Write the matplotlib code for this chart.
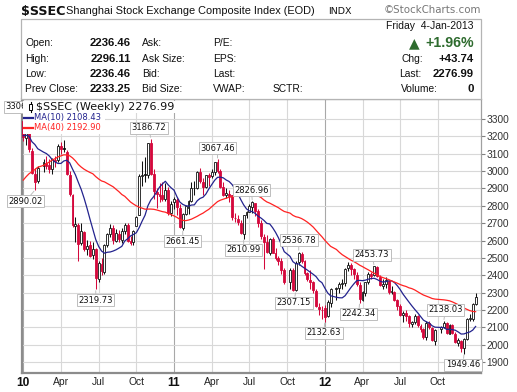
import numpy as np
import pandas as pd
import matplotlib
matplotlib.use("Agg")
import matplotlib.pyplot as plt
import matplotlib.dates as mdates
from matplotlib.patches import Rectangle
from matplotlib.lines import Line2D

W, H = 517, 392

# ---------------- data (weekly bars, week starting Monday) ----------------
holiday_weeks = ["2010-02-15", "2011-10-03", "2012-01-23", "2012-10-01"]

opens = [
    3289, 3191, 3226, 3116, 2983, 2941, 3031, 3048, 3034, 3010, 3062, 3065, 3145, 3135, 3110, 2975, 2862,
    2682, 2690, 2585, 2651, 2550, 2573, 2520, 2554, 2378, 2466, 2420, 2575, 2640, 2673, 2600, 2640, 2606,
    2658, 2690, 2599, 2590, 2685, 2745, 2970, 2985, 2980, 3160, 2985, 2880, 2870, 2860, 2840, 2890, 2760,
    2825, 2835, 2790, 2675, 2752, 2790, 2830, 2900, 2905, 2995, 2940, 2910, 2975, 2970, 2995, 3050, 3000,
    2910, 2865, 2870, 2860, 2730, 2725, 2700, 2640, 2745, 2765, 2795, 2818, 2770, 2700, 2620, 2590, 2530,
    2610, 2530, 2500, 2480, 2430, 2360, 2430, 2315, 2475, 2525, 2480, 2415, 2375, 2360, 2310, 2220, 2200,
    2212, 2165, 2240, 2320, 2330, 2350, 2355, 2440, 2458, 2435, 2400, 2345, 2260, 2300, 2360, 2405, 2400,
    2450, 2390, 2340, 2350, 2370, 2305, 2305, 2260, 2225, 2170, 2185, 2165, 2120, 2130, 2165, 2110, 2090,
    2045, 2125, 2095, 2025, 2090, 2100, 2125, 2065, 2115, 2065, 2010, 2025, 1980, 2035, 2150, 2150, 2233,
]
highs = [
    3295, 3306.75, 3262, 3134, 3017, 3027, 3071, 3089, 3069, 3078, 3085, 3155, 3169, 3181, 3122, 2998, 2869,
    2737, 2702, 2702, 2658, 2605, 2598, 2590, 2558, 2480, 2500, 2582, 2645, 2697, 2690, 2665, 2662, 2670,
    2700, 2700, 2625, 2660, 2740, 2983, 3060, 3080, 3160, 3186.72, 3010, 2900, 2930, 2940, 2930, 2910, 2830,
    2853, 2848, 2810, 2760, 2800, 2832, 2940, 2945, 3000, 3015, 2960, 2980, 2990, 3010, 3050, 3067.46, 3010,
    2935, 2900, 2890, 2862, 2760, 2745, 2720, 2750, 2770, 2810, 2826.96, 2812, 2780, 2720, 2640, 2630, 2615,
    2620, 2560, 2510, 2500, 2440, 2440, 2440, 2480, 2536.78, 2535, 2490, 2420, 2430, 2370, 2320, 2240, 2225,
    2230, 2260, 2330, 2335, 2360, 2380, 2440, 2478, 2470, 2445, 2420, 2360, 2310, 2360, 2420, 2420, 2453.73,
    2452, 2400, 2380, 2390, 2375, 2340, 2310, 2265, 2235, 2195, 2200, 2170, 2140, 2175, 2170, 2120, 2095,
    2135, 2140, 2100, 2090, 2110, 2138.03, 2130, 2120, 2120, 2075, 2040, 2030, 2040, 2155, 2180, 2240, 2296,
]
lows = [
    3172, 3151, 3109, 2986, 2890.02, 2930, 2995, 3011, 2989, 2986, 3022, 3051, 3100, 3110, 2976, 2859, 2680,
    2594, 2481, 2575, 2541, 2515, 2508, 2493, 2319.73, 2363, 2400, 2410, 2565, 2620, 2580, 2590, 2591, 2585,
    2640, 2590, 2574, 2573, 2685, 2745, 2915, 2940, 2960, 2980, 2840, 2790, 2820, 2830, 2830, 2750, 2740,
    2780, 2745, 2670, 2661.45, 2745, 2755, 2820, 2862, 2895, 2930, 2860, 2900, 2915, 2960, 2980, 2990, 2900,
    2855, 2845, 2820, 2720, 2705, 2690, 2640, 2610.99, 2730, 2765, 2760, 2740, 2680, 2610, 2437, 2530, 2520,
    2540, 2490, 2460, 2410, 2350, 2320, 2310, 2307.15, 2460, 2470, 2400, 2370, 2320, 2300, 2220, 2170, 2150,
    2132.63, 2160, 2220, 2260, 2300, 2320, 2340, 2425, 2400, 2380, 2340, 2242.34, 2250, 2280, 2350, 2380, 2395,
    2390, 2340, 2320, 2330, 2290, 2290, 2255, 2200, 2165, 2130, 2140, 2100, 2100, 2120, 2105, 2075, 2035,
    2030, 2090, 2025, 2000, 2070, 2095, 2065, 2060, 2065, 2010, 1995, 1960, 1949.46, 2030, 2140, 2140, 2230,
]
closes = [
    3196, 3224, 3128, 2989, 2939, 3018, 3051, 3031, 3013, 3068, 3060, 3143, 3130, 3130, 2983, 2870, 2688,
    2697, 2583, 2656, 2553, 2570, 2514, 2552, 2382, 2470, 2424, 2572, 2637, 2672, 2606, 2642, 2610, 2656,
    2688, 2598, 2588, 2656, 2738, 2971, 2975, 2978, 3160, 2985, 2888, 2871, 2857, 2837, 2893, 2761, 2808,
    2838, 2791, 2677, 2752, 2798, 2828, 2900, 2905, 2996, 2944, 2906, 2977, 2968, 2996, 3050, 2999, 2911,
    2864, 2872, 2859, 2734, 2728, 2705, 2642, 2746, 2762, 2797, 2820, 2770, 2701, 2626, 2593, 2534, 2612,
    2528, 2498, 2482, 2432, 2359, 2431, 2317, 2473, 2528, 2481, 2416, 2380, 2360, 2315, 2224, 2204, 2199,
    2163, 2244, 2319, 2330, 2351, 2357, 2439, 2460, 2439, 2405, 2349, 2262, 2303, 2359, 2406, 2396, 2452,
    2394, 2344, 2350, 2373, 2306, 2306, 2260, 2225, 2170, 2185, 2168, 2123, 2132, 2168, 2114, 2092, 2047,
    2128, 2100, 2027, 2086, 2104, 2128, 2067, 2117, 2069, 2015, 2030, 1980, 2033, 2150, 2153, 2233, 2277,
]
# weekly closes of Apr-Dec 2009 (needed to warm up the moving averages)
prior_closes = [
    2444, 2445, 2513, 2460, 2477, 2626, 2648, 2611, 2633, 2724, 2743, 2880, 2906, 3009, 3057, 3189, 3372,
    3412, 3261, 3046, 2960, 2860, 2861, 3031, 3015, 2880, 2779, 3009, 3047, 2995, 3195, 3187, 3308, 3096,
    3262, 3247, 3114, 3156, 3277,
]
peak_labels = [3306.75, 3186.72, 3067.46, 2826.96, 2536.78, 2453.73, 2138.03]
trough_labels = [2890.02, 2319.73, 2661.45, 2610.99, 2307.15, 2132.63, 2242.34, 1949.46]

header_left = [("Open:", "2236.46", "Ask:", "P/E:"),
               ("High:", "2296.11", "Ask Size:", "EPS:"),
               ("Low:", "2236.46", "Bid:", "Last:"),
               ("Prev Close:", "2233.25", "Bid Size:", "VWAP:")]
tick_dates = ["2010-01-04", "2010-04-05", "2010-07-05", "2010-10-04", "2011-01-03", "2011-04-04",
              "2011-07-04", "2011-10-03", "2012-01-02", "2012-04-02", "2012-07-02", "2012-10-01"]
tick_labels = ["10", "Apr", "Jul", "Oct", "11", "Apr", "Jul", "Oct", "12", "Apr", "Jul", "Oct"]

# ---------------- derived ----------------
weeks = pd.date_range("2010-01-04", "2012-12-31", freq="W-MON")
weeks = weeks[~weeks.isin(pd.to_datetime(holiday_weeks))]
xs = mdates.date2num(weeks.to_pydatetime())
o = np.array(opens, float); h = np.array(highs, float)
l = np.array(lows, float); c = np.array(closes, float)
n = len(c)
allc = pd.Series(list(prior_closes) + list(closes), dtype=float)
ma10 = allc.rolling(10).mean().values[-n:]
ma40 = allc.rolling(40).mean().values[-n:]

RED = "#d4083c"
BLACK = "#111111"
NAVY = "#23238e"
MARED = "#ff2222"

plt.rcParams["font.family"] = ["Liberation Sans", "DejaVu Sans"]
fig = plt.figure(figsize=(W / 100, H / 100), dpi=100)
ax = fig.add_axes([22 / W, 1 - 373 / H, (481 - 22) / W, (373 - 99) / H])

x0 = mdates.date2num(pd.Timestamp("2010-01-01").to_pydatetime())
x1 = mdates.date2num(pd.Timestamp("2013-01-13").to_pydatetime())
ax.set_xlim(x0, x1)
ax.set_ylim(1838, 3415)

# grid
ax.set_axisbelow(True)
ax.set_yticks(np.arange(1900, 3301, 100))
ax.yaxis.grid(True, color="#d8d8d8", lw=0.8)
tx = mdates.date2num(pd.to_datetime(tick_dates).to_pydatetime())
for t, lab in zip(tx, tick_labels):
    yr = lab.isdigit()
    ax.axvline(t, color="#a8a8a8" if yr else "#d8d8d8", lw=0.8, zorder=0.5)

# candles
prev = np.r_[prior_closes[-1], c[:-1]]
cols = [BLACK if c[i] >= prev[i] else RED for i in range(n)]
hollow = c > o
ax.vlines(xs, l, h, colors=cols, lw=0.75, zorder=3)
lo = np.minimum(o, c); hi = np.maximum(o, c)
ht = np.maximum(hi - lo, 3)
fcs = ["white" if hollow[i] else cols[i] for i in range(n)]
ax.bar(xs, ht, bottom=lo, width=4.6, color=fcs, edgecolor=cols, lw=0.6, zorder=4)

# moving averages
ax.plot(xs, ma10, color=NAVY, lw=0.9, zorder=5)
ax.plot(xs, ma40, color=MARED, lw=0.9, zorder=5)

# value labels
lab_kw = dict(fontsize=6, family="DejaVu Sans", ha="center", va="center", color="#111111",
              textcoords="offset points", annotation_clip=False, zorder=6,
              bbox=dict(boxstyle="square,pad=0.18", fc="white", ec="#bdbdbd", lw=0.7),
              arrowprops=dict(arrowstyle="-", color="#bdbdbd", lw=0.7, shrinkA=0, shrinkB=1))
shift = {3306.75: -3.5, 3186.72: -2, 2826.96: -1, 2138.03: 2, 2890.02: -9.5, 2132.63: -1,
         1949.46: -1, 2453.73: -2, 2307.15: -2, 2242.34: -1}
for v in peak_labels:
    i = int(np.argmin(np.abs(h - v)))
    ax.annotate(f"{v:.2f}", xy=(xs[i], h[i]), xytext=(shift.get(v, 0) / 1.389, 8.0), **lab_kw)
for v in trough_labels:
    i = int(np.argmin(np.abs(l - v)))
    ax.annotate(f"{v:.2f}", xy=(xs[i], l[i]), xytext=(shift.get(v, 0) / 1.389, -8.0), **lab_kw)

# axes styling
for s in ["left", "bottom"]:
    ax.spines[s].set_color("#8c8c8c"); ax.spines[s].set_linewidth(1.6)
for s in ["top", "right"]:
    ax.spines[s].set_color("#a0a0a0"); ax.spines[s].set_linewidth(0.9)
ax.yaxis.tick_right()
ax.tick_params(axis="y", which="both", length=3, width=0.8, color="#808080", pad=1,
               labelsize=7.3, labelcolor="#333333")
ax.set_xticks(tx)
ax.set_xticklabels(tick_labels)
ax.tick_params(axis="x", length=0, pad=3.2, labelsize=7.4, labelcolor="#222222")
for tl, lab in zip(ax.get_xticklabels(), tick_labels):
    if lab.isdigit():
        tl.set_fontweight("bold"); tl.set_fontsize(8.6); tl.set_color("#111111")


# ---------------- figure-level text ----------------
def ft(x, y, s, **kw):
    kw.setdefault("va", "center")
    return fig.text(x / W, 1 - y / H, s, **kw)


def frect(x, y, w, hgt, **kw):
    r = Rectangle((x / W, 1 - (y + hgt) / H), w / W, hgt / H, transform=fig.transFigure, **kw)
    fig.add_artist(r)
    return r


# title line
ft(20.5, 11.5, "$SSEC", fontsize=9.2, fontweight="bold", family="DejaVu Sans", color="#111111")
ft(66.5, 11.5, "Shanghai Stock Exchange Composite Index (EOD)", fontsize=7.9, color="#111111")
ft(328, 11.5, "INDX", fontsize=6.8, color="#111111", family="DejaVu Sans")
ft(481, 10, "\u00a9StockCharts.com", fontsize=7.4, color="#777777", ha="right", family="DejaVu Sans")

# header box
frect(20.7, 19.3, 460.3, 79.7, fc="white", ec="#b4b4b4", lw=0.9, zorder=1)
rows_y = [43.3, 59, 74.3, 89.3]
for (lab, val, lab2, lab3), y in zip(header_left, rows_y):
    ft(25, y, lab, fontsize=7.4, color="#111111")
    ft(131, y, val, fontsize=8.2, fontweight="bold", ha="right", color="#111111")
    ft(142, y, lab2, fontsize=7.4, color="#111111")
    ft(213, y, lab3, fontsize=7.4, color="#111111")
ft(273, 89.3, "SCTR:", fontsize=7.4, color="#111111")
ft(474, 26.3, "Friday  4-Jan-2013", fontsize=7.5, ha="right", color="#111111")
ft(414, 43.3, "\u25b2", fontsize=10, ha="center", color="#2e6b2e", family="DejaVu Sans")
ft(474, 43.3, "+1.96%", fontsize=10.2, fontweight="bold", ha="right", color="#2e6b2e")
ft(401.5, 59, "Chg:", fontsize=7.4, color="#111111")
ft(474, 59, "+43.74", fontsize=8.2, fontweight="bold", ha="right", color="#111111")
ft(399.5, 74.3, "Last:", fontsize=7.4, color="#111111")
ft(474, 74.3, "2276.99", fontsize=8.2, fontweight="bold", ha="right", color="#111111")
ft(401, 89.3, "Volume:", fontsize=7.4, color="#111111")
ft(474, 89.3, "0", fontsize=8.2, fontweight="bold", ha="right", color="#111111")

# legend inside chart
frect(22.8, 100.5, 155, 12.5, fc="white", ec="none", zorder=2)
frect(22.8, 112.5, 82, 21, fc="white", ec="none", zorder=2)
fig.add_artist(Line2D([30.5 / W, 30.5 / W], [1 - 101.5 / H, 1 - 112 / H], transform=fig.transFigure,
                      color="black", lw=0.8, zorder=3))
frect(29.3, 103.5, 2.4, 6, fc="white", ec="black", lw=0.7, zorder=4)
ft(36.5, 107, "$SSEC (Weekly) 2276.99", fontsize=8, family="DejaVu Sans", color="#111111", zorder=5)
fig.add_artist(Line2D([24 / W, 33 / W], [1 - 117.5 / H] * 2, transform=fig.transFigure,
                      color=NAVY, lw=1.6, zorder=3))
ft(34.3, 117.5, "MA(10) 2108.43", fontsize=6, family="DejaVu Sans", color=NAVY, zorder=5)
fig.add_artist(Line2D([24 / W, 33 / W], [1 - 128 / H] * 2, transform=fig.transFigure,
                      color=MARED, lw=1.6, zorder=3))
ft(34.3, 128, "MA(40) 2192.90", fontsize=6, family="DejaVu Sans", color=MARED, zorder=5)

fig.savefig("out.png", dpi=100)
